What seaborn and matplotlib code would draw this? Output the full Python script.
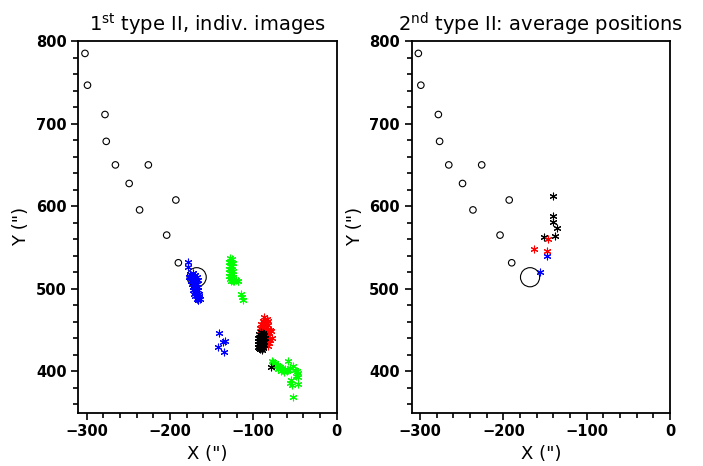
"""
Type II burst source positions: individual images vs average positions.
"""

import numpy as np
import matplotlib
matplotlib.use('Agg')
import matplotlib.pyplot as plt
from matplotlib.ticker import MultipleLocator
import seaborn as sns

# 1. Data (arcsec)
# open circles, common to both panels
circ_x = [-302, -299, -278, -276.5, -265.5, -226, -249, -193, -236.5, -204, -190]
circ_y = [785, 746.5, 711, 678.5, 650, 650, 627.5, 607.5, 595.5, 565, 531.5]
big_x = [-168]
big_y = [514]

# left panel: individual images
blue_x = [-178, -179, -176, -173, -170, -177, -174, -171, -168, -175, -172, -169, -167,
          -174, -171, -168, -173, -170, -167, -172, -169, -166, -171, -168, -165, -170,
          -167, -165, -168, -166, -164, -166,
          -141.5, -142.5, -136.5, -134.5, -135.5]
blue_y = [533, 526, 518, 519, 517, 514, 515, 513, 514, 510, 510, 509, 511,
          506, 505, 506, 502, 501, 502, 498, 497, 498, 494, 493, 494, 491,
          490, 491, 488, 487, 488, 486,
          447, 429.5, 435, 437, 423]
green_x = [-128, -126, -129, -127, -125, -128, -126, -129, -127, -125, -128, -126, -129,
           -127, -125, -128, -126, -127, -125, -124, -123, -121, -119, -118, -115, -114,
           -113,
           -78, -76, -74, -72, -75, -73, -70, -68, -71, -66, -64, -67, -62, -60, -63,
           -58, -58, -56, -52, -50, -48, -46, -49, -47, -55, -56, -54, -46, -52]
green_y = [537, 536, 533, 532, 531, 528, 527, 524, 523, 522, 519, 518, 516,
           515, 514, 512, 511, 509, 510, 512, 510, 511, 509, 510, 494, 490,
           487,
           413, 411, 410, 408, 407, 405, 407, 405, 403, 404, 402, 401, 403, 401, 399,
           402, 413, 404, 407, 402, 400, 398, 395, 393, 390, 386, 384, 385, 369]
red_x = [-87, -84, -89, -86, -83, -91, -88, -85, -82, -92, -89, -86, -83, -80, -90,
         -87, -84, -81, -79, -91, -88, -85, -82, -78, -86, -83, -80, -84, -81, -83]
red_y = [466, 464, 461, 460, 461, 457, 456, 457, 456, 453, 452, 452, 451, 450, 448,
         448, 447, 447, 449, 445, 444, 444, 443, 441, 440, 439, 438, 435, 434, 431]
black_x = [-91, -89, -93, -91, -89, -87, -94, -92, -90, -88, -86, -95, -93, -91, -89,
           -87, -95, -93, -91, -89, -87, -94, -92, -90, -88, -93, -91, -89, -92, -90,
           -79]
black_y = [448, 447, 445, 444, 445, 444, 441, 441, 440, 441, 440, 437, 437, 436, 437,
           436, 433, 433, 432, 433, 432, 430, 430, 429, 430, 428, 428, 428, 427, 426.5,
           405.5]

# right panel: average positions
avg_black_x = [-141, -141, -140, -136, -151, -137.5]
avg_black_y = [612, 588, 580.5, 574, 562.5, 563.5]
avg_red_x = [-146.5, -163, -148]
avg_red_y = [560.5, 548, 545.5]
avg_blue_x = [-148, -156]
avg_blue_y = [540, 520]

titles = [r'1$^{\rm st}$ type II, indiv. images',
          r'2$^{\rm nd}$ type II: average positions']

# 2. Figure
sns.set_style('ticks')
plt.rcParams['font.family'] = ['DejaVu Sans']
plt.rcParams['text.color'] = 'black'
plt.rcParams['axes.labelcolor'] = 'black'
plt.rcParams['xtick.color'] = 'black'
plt.rcParams['ytick.color'] = 'black'
plt.rcParams['axes.edgecolor'] = 'black'
fig = plt.figure(figsize=(7.03, 4.66), dpi=100)
ax1 = fig.add_axes([0.1114, 0.1144, 0.3676, 0.7976])
ax2 = fig.add_axes([0.5856, 0.1144, 0.3676, 0.7976])

STAR = (6, 2, 0)


def stars(ax, x, y, col):
    sns.scatterplot(x=x, y=y, ax=ax, marker=STAR, s=24, color=col,
                    edgecolor=col, linewidth=0.8, zorder=3)


def circles(ax):
    sns.scatterplot(x=circ_x, y=circ_y, ax=ax, marker='o', s=22,
                    facecolor='none', edgecolor='black', linewidth=0.8, zorder=2)
    sns.scatterplot(x=big_x, y=big_y, ax=ax, marker='o', s=190,
                    facecolor='none', edgecolor='black', linewidth=0.8, zorder=2)


# 2.1 individual images
circles(ax1)
stars(ax1, blue_x, blue_y, 'blue')
stars(ax1, green_x, green_y, '#00ff00')
stars(ax1, red_x, red_y, 'red')
stars(ax1, black_x, black_y, 'black')

# 2.2 average positions
circles(ax2)
stars(ax2, avg_black_x, avg_black_y, 'black')
stars(ax2, avg_red_x, avg_red_y, 'red')
stars(ax2, avg_blue_x, avg_blue_y, 'blue')

for ax, t in zip([ax1, ax2], titles):
    ax.set_xlim(-310, 0)
    ax.set_ylim(350, 800)
    ax.xaxis.set_major_locator(MultipleLocator(100))
    ax.xaxis.set_minor_locator(MultipleLocator(20))
    ax.yaxis.set_major_locator(MultipleLocator(100))
    ax.yaxis.set_minor_locator(MultipleLocator(20))
    ax.tick_params(which='major', direction='out', length=5, width=1.2,
                   labelsize=10.5, top=False, right=False, colors='black')
    ax.tick_params(which='minor', direction='out', length=3.5, width=1.2,
                   top=False, right=False, colors='black')
    for lab in ax.get_xticklabels() + ax.get_yticklabels():
        lab.set_fontweight('bold')
    for sp in ax.spines.values():
        sp.set_visible(True)
        sp.set_linewidth(1.3)
        sp.set_color('black')
    ax.set_title(t, fontsize=14, pad=7, color='black')
    ax.set_xlabel('X (")', fontsize=13, color='black')
    ax.set_ylabel('Y (")', fontsize=13, color='black')

plt.savefig('out.png', dpi=100)
plt.close()
